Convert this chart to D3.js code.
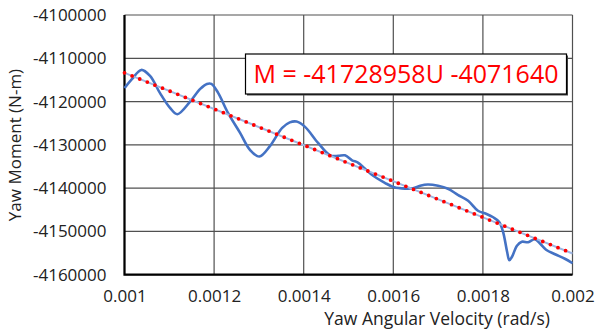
<!DOCTYPE html>
<html>
<head>
<meta charset="utf-8">
<script src="https://cdn.jsdelivr.net/npm/d3@7"></script>
<style>
  body { margin: 0; background: #fff; }
  svg { display: block; font-family: "Open Sans", sans-serif; }
</style>
</head>
<body>
<svg width="597" height="334"></svg>
<script>
// yaw angular velocity (rad/s)
var velocity = [
  0.001, 0.001017, 0.0010375, 0.001057, 0.001079, 0.0011016, 0.001118, 0.001146,
  0.001169, 0.001184, 0.001194, 0.001209, 0.001231, 0.001258, 0.00128, 0.001301,
  0.001325, 0.001352, 0.001369, 0.001384, 0.001403, 0.001432, 0.001459, 0.001477,
  0.001492, 0.001508, 0.001521, 0.001537, 0.001552, 0.001581, 0.001602, 0.001626,
  0.001644, 0.00166, 0.001677, 0.0017, 0.001722, 0.001744, 0.001767, 0.001789,
  0.001807, 0.001823, 0.001836, 0.001845, 0.001854, 0.001859, 0.001865, 0.001876,
  0.001887, 0.001901, 0.001916, 0.001928, 0.001941, 0.001961, 0.001983, 0.002
];
// yaw moment (N-m)
var moment = [
  -4116900, -4114770, -4112690, -4114080, -4118000, -4121460, -4122920, -4120080,
  -4117080, -4115920, -4115920, -4118000, -4122620, -4127230, -4131150, -4132700,
  -4130230, -4126080, -4124810, -4124620, -4125850, -4129540, -4132420, -4132540,
  -4132420, -4133580, -4134090, -4135540, -4136920, -4138770, -4139810, -4140110,
  -4140040, -4139460, -4139160, -4139460, -4140150, -4141540, -4142920, -4145230,
  -4145920, -4146730, -4147770, -4150080, -4154690, -4156650, -4155850, -4153310,
  -4152380, -4152500, -4151810, -4152850, -4154230, -4155270, -4156310, -4157350
];
// linear trendline M = slope*U + intercept
var trendSlope = -41728958;
var trendIntercept = -4071640;

var xTicks = [0.001, 0.0012, 0.0014, 0.0016, 0.0018, 0.002];
var xTickLabels = ['0.001', '0.0012', '0.0014', '0.0016', '0.0018', '0.002'];
var yTicks = [-4160000, -4150000, -4140000, -4130000, -4120000, -4110000, -4100000];

var svg = d3.select('svg');

// plot area box
var plot = { left: 124.5, right: 572.5, top: 15, bottom: 274.7 };

var x = d3.scaleLinear().domain([0.001, 0.002]).range([plot.left, plot.right]);
var y = d3.scaleLinear().domain([-4160000, -4100000]).range([plot.bottom, plot.top]);

// gridlines
var grid = svg.append('g').attr('stroke', '#505050').attr('stroke-width', 1.2);
grid.selectAll('line.h')
  .data(yTicks)
  .enter().append('line')
  .attr('class', 'h')
  .attr('x1', plot.left).attr('x2', plot.right)
  .attr('y1', function(d){ return y(d); })
  .attr('y2', function(d){ return y(d); });
grid.selectAll('line.v')
  .data(xTicks)
  .enter().append('line')
  .attr('class', 'v')
  .attr('y1', plot.top).attr('y2', plot.bottom)
  .attr('x1', function(d){ return x(d); })
  .attr('x2', function(d){ return x(d); });

// axes (labels only, Excel style)
var yAxis = d3.axisLeft(y)
  .tickValues(yTicks)
  .tickFormat(function(d){ return String(d); })
  .tickSize(0)
  .tickPadding(18);
var gy = svg.append('g')
  .attr('transform', 'translate(' + plot.left + ',0)')
  .call(yAxis);
gy.select('.domain').remove();
gy.selectAll('text')
  .attr('font-size', 17)
  .attr('font-family', '"Open Sans", sans-serif')
  .attr('fill', '#222');

var xAxis = d3.axisBottom(x)
  .tickValues(xTicks)
  .tickFormat(function(d, i){ return xTickLabels[i]; })
  .tickSize(0)
  .tickPadding(15);
var gx = svg.append('g')
  .attr('transform', 'translate(0,' + plot.bottom + ')')
  .call(xAxis);
gx.select('.domain').remove();
gx.selectAll('text')
  .attr('font-size', 17)
  .attr('font-family', '"Open Sans", sans-serif')
  .attr('fill', '#222');

// thick black left and bottom axis lines
svg.append('path')
  .attr('d', 'M' + plot.left + ',' + plot.top + 'V' + plot.bottom + 'H' + plot.right)
  .attr('fill', 'none')
  .attr('stroke', '#000')
  .attr('stroke-width', 2.2);

// data curve
var line = d3.line()
  .x(function(d, i){ return x(velocity[i]); })
  .y(function(d){ return y(d); })
  .curve(d3.curveCatmullRom.alpha(0.5));

svg.append('path')
  .datum(moment)
  .attr('d', line)
  .attr('fill', 'none')
  .attr('stroke', '#4472c4')
  .attr('stroke-width', 2.6)
  .attr('stroke-linejoin', 'round');

// trendline
var trendData = [0.001, 0.002].map(function(u){ return [u, trendSlope*u + trendIntercept]; });
var trendLine = d3.line()
  .x(function(d){ return x(d[0]); })
  .y(function(d){ return y(d[1]); });
svg.append('path')
  .datum(trendData)
  .attr('d', trendLine)
  .attr('fill', 'none')
  .attr('stroke', '#9fb7e3')
  .attr('stroke-width', 2);
svg.append('path')
  .datum(trendData)
  .attr('d', trendLine)
  .attr('fill', 'none')
  .attr('stroke', '#ff0000')
  .attr('stroke-width', 3.8)
  .attr('stroke-linecap', 'round')
  .attr('stroke-dasharray', '0 8.2');

// equation box
var box = svg.append('g');
box.append('rect')
  .attr('x', 247).attr('y', 55.5)
  .attr('width', 321).attr('height', 40)
  .attr('fill', '#444');
box.append('rect')
  .attr('x', 245.5).attr('y', 54)
  .attr('width', 321).attr('height', 40)
  .attr('fill', '#fff')
  .attr('stroke', '#000')
  .attr('stroke-width', 1.2);
box.append('text')
  .attr('x', 406).attr('y', 83)
  .attr('text-anchor', 'middle')
  .attr('font-size', 25)
  .attr('fill', '#ff0000')
  .text('M = ' + trendSlope + 'U ' + trendIntercept);

// axis titles
svg.append('text')
  .attr('transform', 'translate(21,145) rotate(-90)')
  .attr('text-anchor', 'middle')
  .attr('font-size', 17)
  .attr('fill', '#222')
  .text('Yaw Moment (N-m)');
svg.append('text')
  .attr('x', 550).attr('y', 325)
  .attr('text-anchor', 'end')
  .attr('font-size', 17.5)
  .attr('fill', '#222')
  .text('Yaw Angular Velocity (rad/s)');
</script>
</body>
</html>
